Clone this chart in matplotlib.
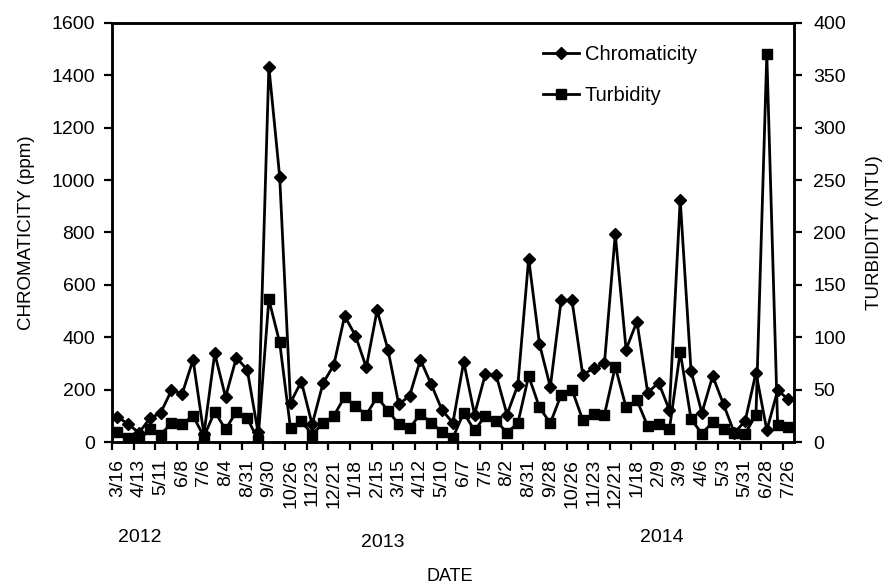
import numpy as np
import matplotlib
matplotlib.use("Agg")
from matplotlib import pyplot as plt

plt.rcParams['font.family'] = ['Liberation Sans', 'DejaVu Sans']

# biweekly samples, 2012-03-16 .. 2014-07-26
chroma = [96, 69, 35, 90, 111, 197, 185, 314, 30, 338,
          172, 322, 276, 38, 1433, 1013, 150, 231, 67, 224,
          294, 481, 406, 285, 503, 353, 144, 176, 314, 220,
          122, 73, 306, 105, 259, 255, 105, 217, 700, 374,
          210, 541, 541, 256, 282, 300, 793, 353, 460, 188,
          227, 122, 925, 272, 111, 252, 144, 35, 80, 265,
          45, 197, 163]
turb = [10, 4, 2, 12, 7, 18, 17, 25, 5, 29,
        12, 29, 23, 2, 136, 95, 13, 20, 7, 18,
        25, 43, 34, 26, 43, 30, 17, 13, 27, 18,
        10, 4, 28, 11, 25, 20, 9, 18, 63, 33,
        18, 45, 50, 21, 27, 26, 72, 33, 40, 15,
        17, 12, 86, 22, 8, 19, 12, 9, 8, 26,
        370, 16, 14]
date_labels = ['3/16', '4/13', '5/11', '6/8', '7/6', '8/4', '8/31', '9/30',
               '10/26', '11/23', '12/21', '1/18', '2/15', '3/15', '4/12', '5/10',
               '6/7', '7/5', '8/2', '8/31', '9/28', '10/26', '11/23', '12/21',
               '1/18', '2/9', '3/9', '4/6', '5/3', '5/31', '6/28', '7/26']
years = ['2012', '2013', '2014']

x = np.arange(len(chroma))

fig = plt.figure(figsize=(8.88, 5.85), dpi=100)
ax = fig.add_axes([0.126, 0.2444, 0.768, 0.7166])
ax2 = ax.twinx()

l1, = ax.plot(x, chroma, color='black', lw=2.0, marker='D', ms=6.5,
              label='Chromaticity')
l2, = ax2.plot(x, turb, color='black', lw=2.0, marker='s', ms=6.5,
               label='Turbidity')

ax.set_xlim(-0.5, len(x) - 0.5)
ax.set_ylim(0, 1600)
ax2.set_ylim(0, 400)
ax.set_yticks(np.arange(0, 1601, 200))
ax2.set_yticks(np.arange(0, 401, 50))

ax.set_xticks(x[::2])
ax.set_xticklabels(date_labels, rotation=90, fontsize=14)
ax.set_xticks(np.arange(-0.5, len(x) - 1, 2), minor=True)
ax.tick_params(axis='x', which='major', length=0, pad=12)
ax.tick_params(axis='x', which='minor', length=6, width=1.6, direction='out')
ax.tick_params(axis='y', length=6, width=1.6, labelsize=14, pad=6)
ax2.tick_params(axis='y', length=6, width=1.6, labelsize=14, pad=8)

for a in (ax, ax2):
    for s in a.spines.values():
        s.set_linewidth(1.8)

ax.set_ylabel('CHROMATICITY (ppm)', fontsize=13.5, labelpad=12)
ax2.set_ylabel('TURBIDITY (NTU)', fontsize=13.5, labelpad=14)

for yr, xp, yp in zip(years, [0.157, 0.431, 0.745], [0.082, 0.073, 0.082]):
    fig.text(xp, yp, yr, fontsize=14, ha='center', va='center')
fig.text(0.507, 0.015, 'DATE', fontsize=13, ha='center', va='center')

ax2.legend([l1, l2], ['Chromaticity', 'Turbidity'], loc='upper left',
           bbox_to_anchor=(0.605, 0.99), frameon=False, fontsize=14.5,
           handlelength=1.8, labelspacing=1.1, handletextpad=0.3)

fig.savefig('out.png', dpi=100)
